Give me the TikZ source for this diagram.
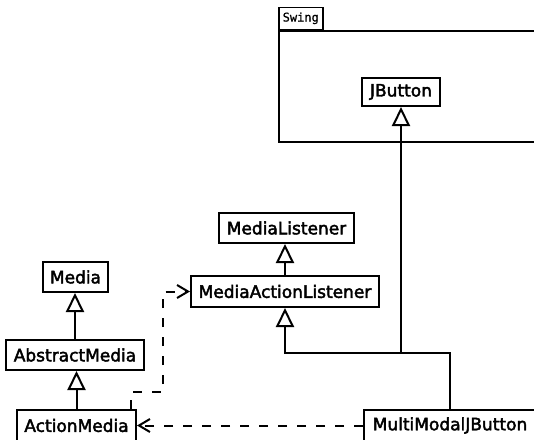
\documentclass[tikz,border=0pt]{standalone}
\usepackage{fontspec}
\setmainfont{DejaVu Sans}
\newfontfamily\clsfont{DejaVu Sans}[FakeBold=2.5]
\newfontfamily\monof{DejaVu Sans Mono}[FakeBold=1]
\usetikzlibrary{arrows.meta}
\begin{document}
\begin{tikzpicture}[x=1pt,y=-1pt,
  cls/.style={draw, line width=2pt, fill=white, minimum height=30pt, inner sep=0pt, font=\clsfont\fontsize{17}{19}\selectfont},
  inh/.style={line width=2pt, -{Triangle[open, width=18pt, length=19pt, line width=2pt]}},
  dep/.style={line width=2pt, dash pattern=on 9pt off 10pt, -{Straight Barb[length=11pt, width=13pt, line width=2pt]}},
  pkg/.style={draw, line width=2pt, inner sep=0pt},
]
\path[use as bounding box, clip] (0,0) rectangle (534,439);
\node[pkg, minimum width=270pt, minimum height=111pt, anchor=north west] (swing) at (278,30) {};
\node[pkg, line width=1.5pt, minimum width=44pt, minimum height=22pt, anchor=south west, font=\monof\fontsize{12}{13}\selectfont] (tab) at (swing.north west) {Swing};
\node[cls, minimum width=78pt, minimum height=28pt] (jb) at (401,92) {JButton};
\node[cls, minimum width=135pt] (ml) at (286.5,228) {MediaListener};
\node[cls, minimum width=188pt, minimum height=31pt] (mal) at (285,291.5) {MediaActionListener};
\node[cls, minimum width=65pt] (media) at (75.5,277) {Media};
\node[cls, minimum width=138pt] (am) at (75,355) {AbstractMedia};
\node[cls, minimum width=119pt, minimum height=31pt] (actm) at (76.5,425.5) {ActionMedia};
\node[cls, minimum width=172pt, minimum height=31pt] (mmjb) at (450,425.5) {MultiModalJButton};
\draw[inh] (am.north) -- (am.north |- media.south);
\draw[inh] (actm.north) -- (actm.north |- am.south);
\draw[inh] (mal.north) -- (mal.north |- ml.south);
\coordinate (junc) at (401,353);
\coordinate (d1) at (163,392);
\draw[inh] (mmjb.north) |- (junc) -| (mal.south);
\draw[inh] (junc) -- (jb.south);
\draw[dep] ([xshift=-6pt]actm.north east) |- (d1) |- (mal.west);
\draw[dep] (mmjb.west) -- (actm.east);
\end{tikzpicture}
\end{document}
